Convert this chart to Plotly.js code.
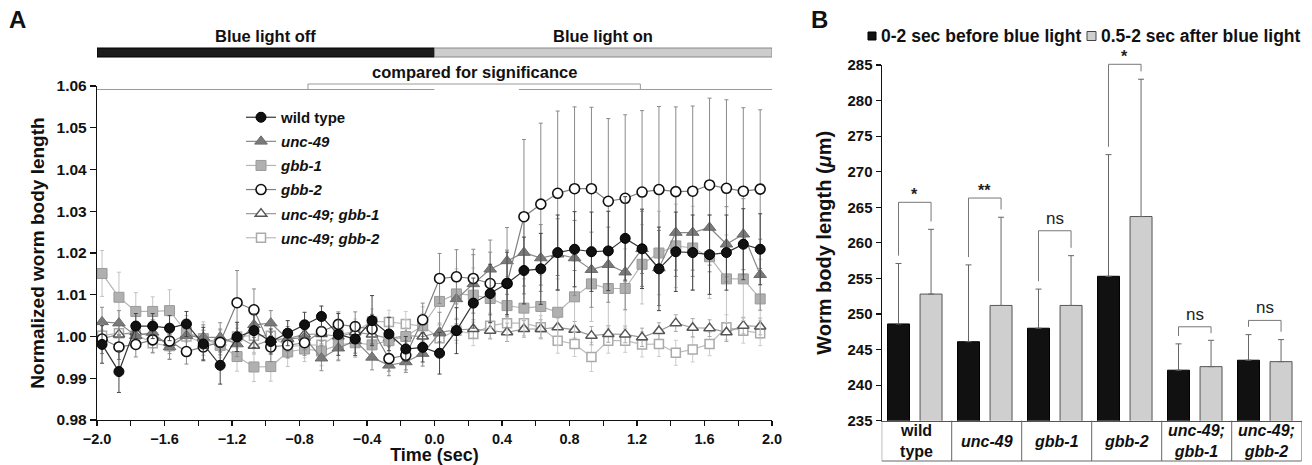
<!DOCTYPE html>
<html>
<head>
<meta charset="utf-8">
<script src="https://cdn.plot.ly/plotly-3.0.1.min.js"></script>
<style>html,body{margin:0;padding:0;background:#fff;}#chart{width:1312px;height:465px;}</style>
</head>
<body>
<div id="chart"></div>
<script>
// ---------- Panel A data ----------
const time = [-1.97,-1.87,-1.77,-1.67,-1.57,-1.47,-1.37,-1.27,-1.17,-1.07,-0.97,-0.87,-0.77,-0.67,-0.57,-0.47,-0.37,-0.27,-0.17,-0.07,
              0.03,0.13,0.23,0.33,0.43,0.53,0.63,0.73,0.83,0.93,1.03,1.13,1.23,1.33,1.43,1.53,1.63,1.73,1.83,1.93];
const seriesNames = ['wild type','<i>unc-49</i>','<i>gbb-1</i>','<i>gbb-2</i>','<i>unc-49; gbb-1</i>','<i>unc-49; gbb-2</i>'];
const wildType = [0.9981,0.9916,1.0025,1.0025,1.0020,1.0030,0.9982,0.9931,0.9999,1.0014,0.9988,1.0008,1.0028,1.0048,1.0005,0.9994,1.0038,1.0006,0.9970,0.9974,
                  0.9960,1.0014,1.0080,1.0103,1.0127,1.0158,1.0162,1.0201,1.0209,1.0203,1.0205,1.0235,1.0210,1.0162,1.0203,1.0201,1.0196,1.0201,1.0221,1.0209];
const wildTypeErr = [0.0045,0.0050,0.0030,0.0030,0.0030,0.0030,0.0040,0.0045,0.0035,0.0040,0.0030,0.0030,0.0030,0.0025,0.0050,0.0040,0.0060,0.0040,0.0030,0.0035,
                     0.0050,0.0055,0.0060,0.0070,0.0075,0.0080,0.0085,0.0090,0.0090,0.0095,0.0095,0.0100,0.0095,0.0100,0.0095,0.0090,0.0095,0.0090,0.0085,0.0085];
const unc49 = [1.0035,1.0032,1.0002,1.0010,0.9975,1.0002,0.9998,0.9998,0.9982,1.0028,1.0032,0.9994,0.9998,0.9948,0.9972,0.9990,0.9950,0.9931,0.9939,0.9959,
               1.0008,1.0090,1.0126,1.0161,1.0181,1.0201,1.0188,1.0197,1.0188,1.0160,1.0172,1.0154,1.0210,1.0164,1.0249,1.0249,1.0261,1.0221,1.0245,1.0148];
const unc49Err = [0.0035,0.0030,0.0030,0.0030,0.0030,0.0030,0.0030,0.0035,0.0030,0.0030,0.0030,0.0030,0.0030,0.0030,0.0030,0.0030,0.0030,0.0025,0.0025,0.0030,
                  0.0050,0.0060,0.0070,0.0070,0.0080,0.0080,0.0080,0.0085,0.0090,0.0090,0.0090,0.0090,0.0090,0.0090,0.0090,0.0090,0.0090,0.0090,0.0085,0.0085];
const gbb1 = [1.0151,1.0094,1.0060,1.0060,1.0062,1.0010,0.9995,0.9979,0.9952,0.9927,0.9928,0.9963,0.9970,0.9965,0.9980,0.9985,0.9980,0.9990,1.0000,1.0026,
              1.0084,1.0102,1.0099,1.0091,1.0074,1.0068,1.0072,1.0058,1.0095,1.0126,1.0115,1.0115,1.0173,1.0200,1.0217,1.0212,1.0191,1.0138,1.0138,1.0090];
const gbb1Err = [0.0055,0.0060,0.0045,0.0035,0.0050,0.0040,0.0040,0.0040,0.0035,0.0035,0.0035,0.0035,0.0030,0.0035,0.0035,0.0035,0.0035,0.0035,0.0040,0.0045,
                 0.0055,0.0060,0.0065,0.0070,0.0070,0.0070,0.0075,0.0080,0.0085,0.0090,0.0090,0.0095,0.0095,0.0100,0.0100,0.0100,0.0100,0.0105,0.0100,0.0095];
const gbb2 = [0.9994,0.9975,0.9981,0.9992,0.9989,0.9964,0.9975,0.9986,1.0081,1.0064,0.9975,0.9979,0.9985,1.0012,1.0029,1.0024,1.0018,0.9947,0.9955,1.0040,
              1.0139,1.0143,1.0139,1.0127,1.0127,1.0287,1.0317,1.0343,1.0354,1.0354,1.0324,1.0331,1.0346,1.0352,1.0347,1.0348,1.0363,1.0355,1.0348,1.0353];
const gbb2Err = [0.0035,0.0030,0.0030,0.0030,0.0030,0.0030,0.0030,0.0030,0.0077,0.0050,0.0035,0.0030,0.0030,0.0030,0.0030,0.0035,0.0035,0.0030,0.0035,0.0040,
                 0.0060,0.0065,0.0070,0.0075,0.0080,0.0185,0.0194,0.0197,0.0196,0.0195,0.0198,0.0200,0.0195,0.0199,0.0203,0.0204,0.0208,0.0212,0.0200,0.0190];
const unc49gbb1 = [0.9995,1.0005,1.0010,1.0000,0.9985,1.0005,0.9995,0.9985,1.0000,0.9978,0.9992,0.9995,1.0005,1.0006,1.0000,1.0010,1.0005,0.9995,1.0002,1.0000,
                   1.0010,1.0016,1.0018,1.0014,1.0010,1.0018,1.0018,1.0022,1.0016,1.0002,1.0006,1.0005,0.9998,1.0013,1.0032,1.0021,1.0020,1.0010,1.0026,1.0024];
const unc49gbb1Err = [0.0020,0.0022,0.0018,0.0020,0.0020,0.0018,0.0020,0.0022,0.0020,0.0020,0.0018,0.0020,0.0020,0.0018,0.0020,0.0020,0.0022,0.0020,0.0018,0.0020,
                      0.0022,0.0025,0.0022,0.0020,0.0022,0.0020,0.0022,0.0022,0.0020,0.0022,0.0020,0.0020,0.0022,0.0020,0.0020,0.0022,0.0020,0.0022,0.0020,0.0020];
const unc49gbb2 = [1.0002,1.0008,1.0005,0.9984,0.9977,1.0000,0.9985,0.9979,1.0000,1.0002,1.0002,0.9976,0.9979,0.9980,1.0005,1.0012,1.0036,1.0035,1.0030,1.0025,
                   0.9996,1.0014,1.0006,1.0026,1.0032,1.0032,1.0022,0.9990,0.9982,0.9951,0.9990,0.9990,0.9981,0.9982,0.9961,0.9969,0.9982,1.0022,1.0014,1.0008];
const unc49gbb2Err = [0.0030,0.0028,0.0030,0.0025,0.0030,0.0028,0.0030,0.0030,0.0028,0.0030,0.0030,0.0028,0.0030,0.0030,0.0028,0.0030,0.0030,0.0028,0.0030,0.0030,
                      0.0030,0.0030,0.0028,0.0030,0.0030,0.0030,0.0028,0.0030,0.0030,0.0035,0.0030,0.0028,0.0030,0.0030,0.0030,0.0030,0.0028,0.0030,0.0030,0.0030];

// ---------- Panel B data ----------
const categories = ['wild<br>type','<i>unc-49</i>','<i>gbb-1</i>','<i>gbb-2</i>','<i>unc-49;<br>gbb-1</i>','<i>unc-49;<br>gbb-2</i>'];
const barBefore = [248.6, 246.1, 248.0, 255.3, 242.1, 243.5];
const barBeforeErr = [8.5, 10.8, 5.5, 17.1, 3.7, 3.6];
const barAfter = [252.8, 251.2, 251.2, 263.7, 242.6, 243.3];
const barAfterErr = [9.1, 12.4, 7.0, 19.3, 3.7, 3.1];
const sigLabels = ['*','**','ns','*','ns','ns'];
const sigBracketTop = [265.7, 266.3, 261.7, 285.1, 248.2, 249.1];
const legendB = ['0-2 sec before blue light','0.5-2 sec after blue light'];

// ---------- helpers ----------
const W = 1312, H = 465;
const fx = p => p / W;
const fy = p => 1 - p / H;
const FONT = 'Liberation Sans, Arial, Helvetica, sans-serif';
const Y2MIN = 235, Y2MAX = 285;
const y2Dom = [fy(420.7), fy(65)];
const y2p = v => y2Dom[0] + (v - Y2MIN) / (Y2MAX - Y2MIN) * (y2Dom[1] - y2Dom[0]);

function lineTrace(y, err, name, rank, mk, lineColor, errColor) {
  return {
    type: 'scatter', mode: 'lines+markers', x: time, y: y, name: name,
    legendgroup: 'g' + rank, legendrank: rank, xaxis: 'x', yaxis: 'y',
    line: {color: lineColor, width: 1.2},
    marker: mk,
    error_y: {type: 'data', array: err, visible: true, color: errColor, thickness: 1, width: 2},
    hoverinfo: 'skip'
  };
}

const traces = [
  lineTrace(unc49gbb2, unc49gbb2Err, seriesNames[5], 6,
    {symbol: 'square', size: 9, color: '#ffffff', line: {color: '#aaaaaa', width: 1.5}}, '#bbbbbb', '#cccccc'),
  lineTrace(unc49gbb1, unc49gbb1Err, seriesNames[4], 5,
    {symbol: 'triangle-up', size: 10, color: '#ffffff', line: {color: '#555555', width: 1.5}}, '#999999', '#aaaaaa'),
  lineTrace(gbb1, gbb1Err, seriesNames[2], 3,
    {symbol: 'square', size: 10, color: '#b0b0b0', line: {color: '#9a9a9a', width: 1}}, '#b5b5b5', '#c4c4c4'),
  lineTrace(unc49, unc49Err, seriesNames[1], 2,
    {symbol: 'triangle-up', size: 11, color: '#7a7a7a', line: {color: '#6a6a6a', width: 1}}, '#888888', '#8c8c8c'),
  lineTrace(gbb2, gbb2Err, seriesNames[3], 4,
    {symbol: 'circle', size: 10, color: '#ffffff', line: {color: '#111111', width: 1.6}}, '#808080', '#8a8a8a'),
  lineTrace(wildType, wildTypeErr, seriesNames[0], 1,
    {symbol: 'circle', size: 10, color: '#111111', line: {color: '#000000', width: 1}}, '#333333', '#444444'),
];

// Panel B bars
const idx = categories.map((c, i) => i);
const barW = 0.314, offBefore = -0.417, offAfter = 0.048;
traces.push({
  type: 'bar', x: idx, y: barBefore, xaxis: 'x2', yaxis: 'y2', showlegend: false,
  width: barW, offset: offBefore, marker: {color: '#111111', line: {color: '#000000', width: 1}},
  error_y: {type: 'data', array: barBeforeErr, arrayminus: barBefore.map(() => 0), symmetric: false,
            color: '#666666', thickness: 1, width: 3},
  hoverinfo: 'skip'
});
traces.push({
  type: 'bar', x: idx, y: barAfter, xaxis: 'x2', yaxis: 'y2', showlegend: false,
  width: barW, offset: offAfter, marker: {color: '#cfcfcf', line: {color: '#555555', width: 1}},
  error_y: {type: 'data', array: barAfterErr, arrayminus: barAfter.map(() => 0), symmetric: false,
            color: '#666666', thickness: 1, width: 3},
  hoverinfo: 'skip'
});

// ---------- shapes & annotations ----------
const shapes = [];
const annotations = [];

// Panel A top bars
shapes.push({type: 'rect', xref: 'x', yref: 'paper', x0: -2, x1: 0, y0: fy(57), y1: fy(48),
             fillcolor: '#1c1c1c', line: {color: '#000000', width: 1}});
shapes.push({type: 'rect', xref: 'x', yref: 'paper', x0: 0, x1: 2, y0: fy(57), y1: fy(48),
             fillcolor: '#cdcdcd', line: {color: '#888888', width: 1}});
// significance comparison brackets (Panel A)
const bl = {color: '#9a9a9a', width: 1};
shapes.push({type: 'line', xref: 'x', yref: 'paper', x0: -2, x1: 0, y0: fy(89.5), y1: fy(89.5), line: bl});
shapes.push({type: 'line', xref: 'x', yref: 'paper', x0: 0.5, x1: 2, y0: fy(89.5), y1: fy(89.5), line: bl});
shapes.push({type: 'line', xref: 'x', yref: 'paper', x0: -0.75, x1: -0.75, y0: fy(89.5), y1: fy(84), line: bl});
shapes.push({type: 'line', xref: 'x', yref: 'paper', x0: -0.75, x1: 1.22, y0: fy(84), y1: fy(84), line: bl});
shapes.push({type: 'line', xref: 'x', yref: 'paper', x0: 1.22, x1: 1.22, y0: fy(84), y1: fy(89.5), line: bl});

const boldF = (s, c) => ({family: FONT, size: s, color: c || '#111111', weight: 'bold'});
annotations.push({text: 'A', xref: 'paper', yref: 'paper', x: fx(17), y: fy(20), xanchor: 'center', yanchor: 'middle',
                  showarrow: false, font: boldF(24)});
annotations.push({text: 'B', xref: 'paper', yref: 'paper', x: fx(819), y: fy(20), xanchor: 'center', yanchor: 'middle',
                  showarrow: false, font: boldF(24)});
annotations.push({text: 'Blue light off', xref: 'x', yref: 'paper', x: -1, y: fy(36), xanchor: 'center', yanchor: 'middle',
                  showarrow: false, font: boldF(16.5)});
annotations.push({text: 'Blue light on', xref: 'x', yref: 'paper', x: 1, y: fy(36), xanchor: 'center', yanchor: 'middle',
                  showarrow: false, font: boldF(16.5)});
annotations.push({text: 'compared for significance', xref: 'x', yref: 'paper', x: 0.235, y: fy(72.5), xanchor: 'center', yanchor: 'middle',
                  showarrow: false, font: boldF(16.5)});

// Panel B legend
shapes.push({type: 'rect', xref: 'paper', yref: 'paper', x0: fx(868), x1: fx(876), y0: fy(40), y1: fy(32),
             fillcolor: '#111111', line: {color: '#000000', width: 1}});
shapes.push({type: 'rect', xref: 'paper', yref: 'paper', x0: fx(1087), x1: fx(1096), y0: fy(40.5), y1: fy(31.5),
             fillcolor: '#cfcfcf', line: {color: '#444444', width: 1}});
annotations.push({text: legendB[0], xref: 'paper', yref: 'paper', x: fx(879), y: fy(36), xanchor: 'left', yanchor: 'middle',
                  showarrow: false, font: boldF(17.5)});
annotations.push({text: legendB[1], xref: 'paper', yref: 'paper', x: fx(1099), y: fy(36), xanchor: 'left', yanchor: 'middle',
                  showarrow: false, font: boldF(17.5)});

// Panel B category table
const tableBottom = fy(461), tableTop = fy(420.7);
const tl = {color: '#666666', width: 1};
shapes.push({type: 'line', xref: 'x2', yref: 'paper', x0: -0.5, x1: 5.5, y0: tableBottom, y1: tableBottom, line: tl});
for (let i = 0; i <= categories.length; i++) {
  shapes.push({type: 'line', xref: 'x2', yref: 'paper', x0: i - 0.5, x1: i - 0.5, y0: tableBottom, y1: tableTop, line: tl});
}
categories.forEach((c, i) => {
  annotations.push({text: c, xref: 'x2', yref: 'paper', x: i, y: fy(441), xanchor: 'center', yanchor: 'middle',
                    showarrow: false, font: boldF(16), align: 'center'});
});

// Panel B significance brackets (drawn in paper space so they are never clipped)
const cBefore = offBefore + barW / 2, cAfter = offAfter + barW / 2;
const sl = {color: '#777777', width: 1};
sigLabels.forEach((s, i) => {
  const top = sigBracketTop[i];
  const lEnd = Math.min(barBefore[i] + barBeforeErr[i] + 1.1, top - 0.9);
  const rEnd = Math.min(barAfter[i] + barAfterErr[i] + 1.1, top - 0.9);
  shapes.push({type: 'line', xref: 'x2', yref: 'paper', x0: i + cBefore, x1: i + cBefore, y0: y2p(lEnd), y1: y2p(top), line: sl});
  shapes.push({type: 'line', xref: 'x2', yref: 'paper', x0: i + cBefore, x1: i + cAfter, y0: y2p(top), y1: y2p(top), line: sl});
  shapes.push({type: 'line', xref: 'x2', yref: 'paper', x0: i + cAfter, x1: i + cAfter, y0: y2p(top), y1: y2p(rEnd), line: sl});
  const isNs = s === 'ns';
  annotations.push({text: s, xref: 'x2', yref: 'paper', x: i + (cBefore + cAfter) / 2, y: y2p(top), xanchor: 'center', yanchor: 'bottom',
                    yshift: isNs ? 1 : -3, showarrow: false,
                    font: {family: FONT, size: isNs ? 17 : 16, color: '#222222', weight: isNs ? 'normal' : 'bold'}});
});

const layout = {
  width: W, height: H,
  margin: {l: 0, r: 0, t: 0, b: 0},
  paper_bgcolor: '#ffffff', plot_bgcolor: '#ffffff',
  font: {family: FONT, color: '#111111'},
  showlegend: true,
  barmode: 'overlay',
  legend: {
    x: fx(241), y: fy(101), xanchor: 'left', yanchor: 'top',
    bgcolor: 'rgba(0,0,0,0)', borderwidth: 0,
    font: {family: FONT, size: 15, color: '#111111', weight: 'bold'},
    itemwidth: 30, tracegroupgap: 1.6, traceorder: 'grouped'
  },
  xaxis: {
    domain: [fx(97), fx(772)], anchor: 'y', range: [-2, 2],
    showline: true, linecolor: '#111111', linewidth: 1.2, mirror: false,
    ticks: 'outside', ticklen: 5, tickwidth: 1.2, tickcolor: '#111111',
    tick0: -2, dtick: 0.4, tickformat: '.1f',
    minor: {dtick: 0.2, ticks: 'outside', ticklen: 5, tickwidth: 1.2, tickcolor: '#111111', showgrid: false},
    showgrid: false, zeroline: false,
    tickfont: boldF(14.5),
    title: {text: 'Time (sec)', font: boldF(18), standoff: 4}
  },
  yaxis: {
    domain: [fy(420), fy(86)], anchor: 'x', range: [0.98, 1.06],
    showline: true, linecolor: '#111111', linewidth: 1.2,
    ticks: 'outside', ticklen: 6, tickwidth: 1.2, tickcolor: '#111111',
    dtick: 0.01, tickformat: '.2f',
    showgrid: false, zeroline: false,
    tickfont: boldF(15.5),
    title: {text: 'Normalized worm body length', font: boldF(19), standoff: 6}
  },
  xaxis2: {
    domain: [fx(881.7), fx(1301.7)], anchor: 'y2', range: [-0.5, 5.5],
    showline: true, linecolor: '#555555', linewidth: 1,
    ticks: '', showticklabels: false, showgrid: false, zeroline: false
  },
  yaxis2: {
    domain: y2Dom, anchor: 'x2', range: [Y2MIN, Y2MAX],
    showline: true, linecolor: '#111111', linewidth: 1.2,
    ticks: 'outside', ticklen: 5, tickwidth: 1.2, tickcolor: '#111111',
    dtick: 5, showgrid: false, zeroline: false,
    tickfont: boldF(15),
    title: {text: 'Worm body length (<i>μ</i>m)', font: boldF(20), standoff: 10}
  },
  shapes: shapes,
  annotations: annotations
};

Plotly.newPlot('chart', traces, layout, {staticPlot: true, displayModeBar: false});
</script>
</body>
</html>
